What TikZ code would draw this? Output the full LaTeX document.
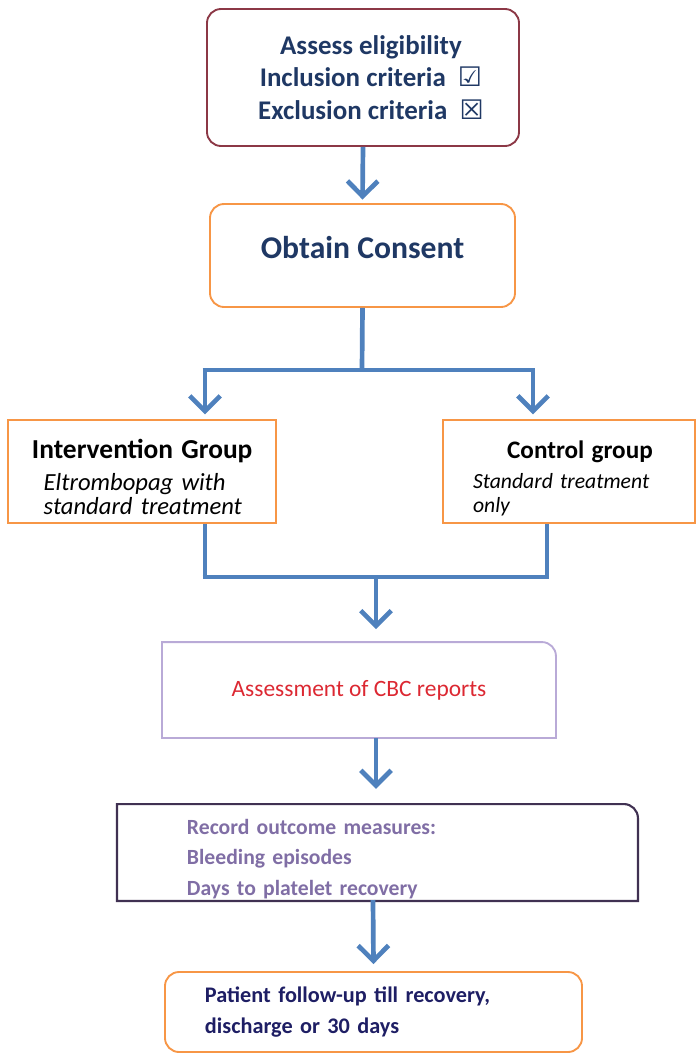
\documentclass[tikz,border=0pt]{standalone}
\usepackage{fontspec}
\setmainfont{Carlito}
\newfontfamily\symfont{DejaVu Sans}
\usetikzlibrary{arrows.meta,positioning}

\definecolor{flowblue}{RGB}{79,129,189}
\definecolor{maroon}{RGB}{140,56,70}
\definecolor{boxorange}{RGB}{247,150,70}
\definecolor{navy}{RGB}{31,56,100}
\definecolor{lilac}{RGB}{185,170,215}
\definecolor{cbcred}{RGB}{220,40,50}
\definecolor{plum}{RGB}{64,49,82}
\definecolor{plumtext}{RGB}{128,110,165}
\definecolor{indigo}{RGB}{30,30,100}

\tikzset{
  flow/.style={draw=flowblue, line width=4pt},
  flowarrow/.style={flow, -{Straight Barb[length=13pt,width=26pt,line width=4pt]}},
  stepbox/.style={rectangle, line width=1.6pt, inner sep=0pt},
}

\begin{document}
\begin{tikzpicture}[x=0.03cm, y=-0.03cm]
	\useasboundingbox (0,0) rectangle (697,1055);
	% boxes
	\node (elig) [stepbox, draw=maroon, rounded corners=12pt, minimum width=9.36cm, minimum height=4.11cm,
		font=\fontsize{23}{28}\selectfont\bfseries, text=navy, align=center] at (363,77.5)
		{\hspace*{13.6pt}Assess eligibility\\ \hspace*{13.6pt}Inclusion criteria\ \ {\symfont\mdseries ☑}\\ \hspace*{13.6pt}Exclusion criteria\ \ {\symfont\mdseries ☒}};
	\node (consent) [stepbox, draw=boxorange, rounded corners=12pt, minimum width=9.15cm, minimum height=3.09cm,
		font=\fontsize{27}{30}\selectfont\bfseries, text=navy] at (362.5,255.5)
		{\rule[-14.5pt]{0pt}{14.5pt}Obtain Consent};
	\node (interv) [stepbox, draw=boxorange, minimum width=8.04cm, minimum height=3.09cm,
		text width=6.6cm, align=left, font=\fontsize{21}{20.4}\selectfont] at (142,471.5)
		{\rule{0pt}{26pt}\mbox{\fontsize{23.4}{26}\selectfont\bfseries Intervention Group}\\[6.6pt]
		 \hspace*{10pt}\itshape Eltrombopag with\\ \hspace*{10pt}\itshape standard treatment};
	\node (ctrl) [stepbox, draw=boxorange, minimum width=7.56cm, minimum height=3.09cm,
		text width=5.76cm, align=left, font=\fontsize{18.5}{20.4}\selectfont] at (569,471.5)
		{\rule{0pt}{27pt}\makebox[\linewidth]{\hspace{18.7pt}\fontsize{21.5}{24}\selectfont\bfseries Control group}\\[5.1pt]
		 \itshape Standard treatment\\ \itshape only};
	\node (cbc) [stepbox, minimum width=11.76cm, minimum height=2.82cm,
		font=\fontsize{20}{22}\selectfont, text=cbcred] at (359,690)
		{Assessment of CBC reports\hspace{12.75pt}};
	\node (record) [stepbox, minimum width=15.57cm, minimum height=2.85cm,
		text width=11.43cm, align=left, font=\fontsize{18.5}{26}\selectfont\bfseries, text=plumtext] at (377.5,852.5)
		{\rule{0pt}{24.2pt}Record outcome measures:\\ Bleeding episodes\\ Days to platelet recovery};
	\node (follow) [stepbox, draw=boxorange, rounded corners=12pt, minimum width=12.51cm, minimum height=2.4cm,
		text width=10.11cm, align=left, font=\fontsize{19}{27}\selectfont\bfseries, text=indigo] at (373.5,1012)
		{Patient follow-up till recovery,\\ discharge or 30 days};
	% outlines with one rounded corner
	\draw [lilac, line width=1.6pt] (cbc.south west) -- (cbc.north west) -- ([xshift=-12pt]cbc.north east)
		arc[start angle=90, end angle=0, radius=12pt] -- (cbc.south east) -- cycle;
	\draw [plum, line width=1.8pt] (record.south west) -- (record.north west) -- ([xshift=-12pt]record.north east)
		arc[start angle=90, end angle=0, radius=12pt] -- (record.south east) -- cycle;
	% joints of the connectors
	\coordinate (split) at (362,370);
	\coordinate (splitL) at (205,370);
	\coordinate (splitR) at (533,370);
	\coordinate (joinL) at (205,577);
	\coordinate (joinR) at (547,577);
	\coordinate (join) at (376,577);
	\coordinate (drop) at (373,900);
	% connectors
	\draw [flowarrow] (elig.south) -- ([yshift=3pt]consent.north);
	\draw [flow] (consent.south) -- (split);
	\draw [flow] ([xshift=-2pt]splitL) -- ([xshift=2pt]splitR);
	\draw [flowarrow] (splitL) -- ([yshift=4pt]splitL |- interv.north);
	\draw [flowarrow] (splitR) -- ([yshift=4pt]splitR |- ctrl.north);
	\draw [flow] (joinL |- interv.south) -- (joinL);
	\draw [flow] (joinR |- ctrl.south) -- (joinR);
	\draw [flow] ([xshift=-2pt]joinL) -- ([xshift=2pt]joinR);
	\draw [flowarrow] (join) -- ([yshift=11pt]join |- cbc.north);
	\draw [flowarrow] (join |- cbc.south) -- ([yshift=13pt]join |- record.north);
	\draw [flowarrow] (drop) -- ([yshift=6pt]follow.north);
\end{tikzpicture}
\end{document}
